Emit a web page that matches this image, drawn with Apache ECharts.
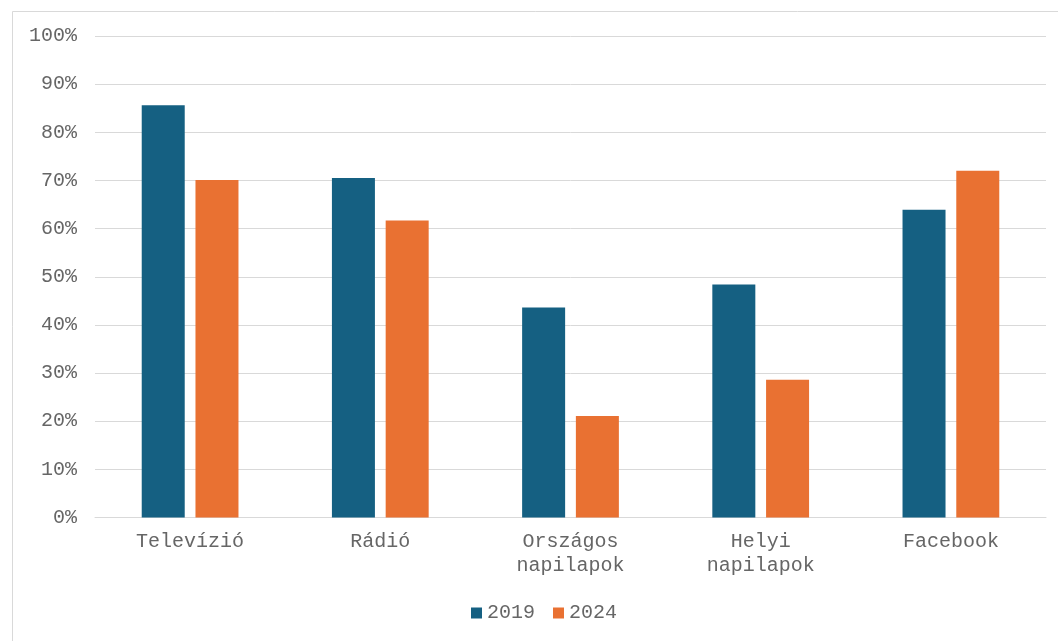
<!DOCTYPE html>
<html>
<head>
<meta charset="utf-8">
<script src="https://cdn.jsdelivr.net/npm/echarts@6/dist/echarts.min.js"></script>
<style>
html,body{margin:0;padding:0;background:#fff;}
#c{width:1058px;height:641px;}
</style>
</head>
<body>
<div id="c"></div>
<script>
const categories = ['Televízió', 'Rádió', 'Országos\nnapilapok', 'Helyi\nnapilapok', 'Facebook'];
const series2019 = [85.6, 70.5, 43.6, 48.4, 63.9];
const series2024 = [70.1, 61.7, 21.1, 28.6, 72.0];
const seriesNames = ['2019', '2024'];

const FONT = '"Liberation Mono", "Courier New", monospace';
const TXT = '#666666';
const chart = echarts.init(document.getElementById('c'), null, {renderer: 'canvas'});
chart.setOption({
  animation: false,
  backgroundColor: '#ffffff',
  graphic: [{
    type: 'rect',
    shape: {x: 12.5, y: 11.5, width: 1100, height: 700},
    style: {fill: 'none', stroke: '#d9d9d9', lineWidth: 1},
    silent: true
  }],
  grid: {left: 95, right: 12, top: 36, bottom: 123.5, containLabel: false},
  legend: {
    data: seriesNames,
    left: 466,
    top: 598,
    itemWidth: 11,
    itemHeight: 11,
    itemGap: 18,
    icon: 'rect',
    textStyle: {fontFamily: FONT, fontSize: 20, color: TXT, padding: [0, 0, 0, 0]}
  },
  xAxis: {
    type: 'category',
    data: categories,
    axisLine: {lineStyle: {color: '#d9d9d9', width: 1}},
    axisTick: {show: false},
    axisLabel: {fontFamily: FONT, fontSize: 20, color: TXT, margin: 12, lineHeight: 24, interval: 0}
  },
  yAxis: {
    type: 'value',
    min: 0,
    max: 100,
    interval: 10,
    axisLine: {show: false},
    axisTick: {show: false},
    splitLine: {lineStyle: {color: '#d9d9d9', width: 1}},
    axisLabel: {fontFamily: FONT, fontSize: 20, color: TXT, margin: 18, formatter: '{value}%'}
  },
  series: [
    {name: seriesNames[0], type: 'bar', data: series2019, barWidth: 43, barGap: '25%', itemStyle: {color: '#156082'}},
    {name: seriesNames[1], type: 'bar', data: series2024, barWidth: 43, barGap: '25%', itemStyle: {color: '#E97132'}}
  ]
});
</script>
</body>
</html>
